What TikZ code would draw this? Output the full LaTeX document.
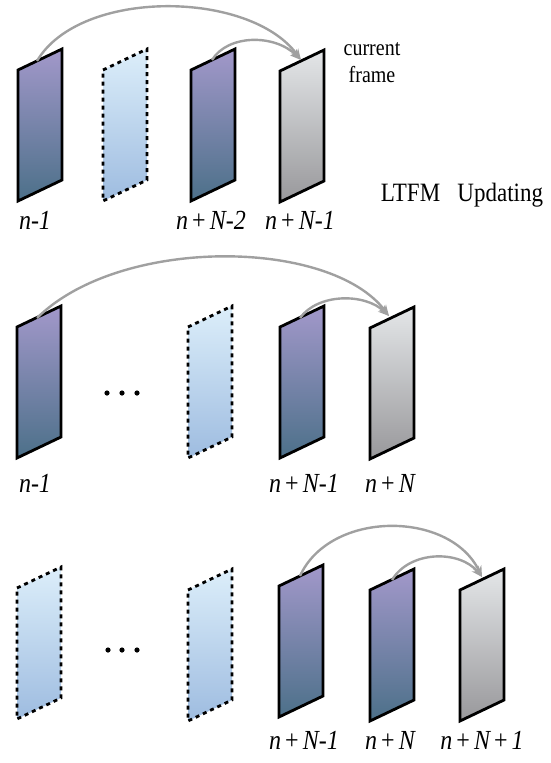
\documentclass[tikz,border=0pt]{standalone}
\usepackage{fontspec}
\setmainfont{Liberation Serif}
\usetikzlibrary{arrows.meta}
\definecolor{purptop}{RGB}{162,152,202}
\definecolor{purpbot}{RGB}{76,112,137}
\definecolor{graytop}{RGB}{228,230,232}
\definecolor{graybot}{RGB}{152,152,155}
\definecolor{bluetop}{RGB}{220,238,250}
\definecolor{bluebot}{RGB}{158,188,224}
\definecolor{arcgray}{RGB}{160,160,160}
\tikzset{
  purpframe/.style={draw=black, line width=2.8pt, line join=miter, top color=purptop, bottom color=purpbot},
  grayframe/.style={draw=black, line width=2.8pt, line join=miter, top color=graytop, bottom color=graybot},
  dashframe/.style={draw=black, line width=2.8pt, dash pattern=on 4pt off 4pt, top color=bluetop, bottom color=bluebot},
  lbl/.style={inner sep=0pt, font=\fontsize{24}{26}\selectfont\itshape},
  arc/.style={draw=arcgray, line width=2.4pt, -{Stealth[length=11pt,width=9pt]}},
  dot/.style={fill=black, draw=none}
}
\newcommand\myframe[3]{\path[#1] (#2,#3) -- ++(44,-21) -- ++(0,131) -- ++(-44,21) -- cycle;}
\newcommand\plusop{\upshape\,+\,}
\newcommand\tall[1]{\scalebox{1}[1.15]{#1}}
\begin{document}
\begin{tikzpicture}[x=1pt,y=-1pt]
\useasboundingbox (0,0) rectangle (550,763);
% ---------- Row 1 ----------
\myframe{purpframe}{18}{70}
\myframe{dashframe}{103}{70}
\myframe{purpframe}{191}{70}
\myframe{grayframe}{280}{71}
\coordinate (a1) at (37,61);
\coordinate (a3) at (212,60);
\coordinate (a4) at (301,60);
\draw[arc] (a1) .. controls (80,-12) and (250,-10) .. (a4);
\draw[arc] (a3) .. controls (228,34) and (275,34) .. (a4);
\node[lbl] (la1) at (35,220) {\tall{n-1}};
\node[lbl] (la3) at (211,220) {\tall{n{\plusop}N-2}};
\node[lbl] (la4) at (300,220) {\tall{n{\plusop}N-1}};
\node[inner sep=0pt, align=center, font=\fontsize{20}{27}\selectfont] (cf) at (372,63) {\tall{current}\\\tall{frame}};
\node[inner sep=0pt, font=\fontsize{23}{25}\selectfont] (ltfm) at (462,195) {\tall{LTFM\hspace{0.75em}Updating}};
% ---------- Row 2 ----------
\myframe{purpframe}{17}{327}
\myframe{dashframe}{188}{327}
\myframe{purpframe}{280}{327}
\myframe{grayframe}{370}{328}
\fill[dot] (107,393) circle (2.6) (122,393) circle (2.6) (137,393) circle (2.6);
\coordinate (b1) at (37,318);
\coordinate (b3) at (300,318);
\coordinate (b4) at (389,316);
\draw[arc] (b1) .. controls (120,236) and (330,238) .. (b4);
\draw[arc] (b3) .. controls (318,293) and (365,293) .. (b4);
\node[lbl] (lb1) at (35,483) {\tall{n-1}};
\node[lbl] (lb3) at (304,483) {\tall{n{\plusop}N-1}};
\node[lbl] (lb4) at (390,483) {\tall{n{\plusop}N}};
% ---------- Row 3 ----------
\myframe{dashframe}{17}{588}
\myframe{dashframe}{188}{590}
\myframe{purpframe}{279}{586}
\myframe{purpframe}{370}{590}
\myframe{grayframe}{460}{590}
\fill[dot] (108,650) circle (2.6) (122,650) circle (2.6) (137,650) circle (2.6);
\coordinate (c3) at (300,576);
\coordinate (c4) at (392,580);
\coordinate (c5) at (482,577);
\draw[arc] (c3) .. controls (330,510) and (450,510) .. (c5);
\draw[arc] (c4) .. controls (410,550) and (460,550) .. (c5);
\node[lbl] (lc3) at (304,740) {\tall{n{\plusop}N-1}};
\node[lbl] (lc4) at (390,740) {\tall{n{\plusop}N}};
\node[lbl] (lc5) at (482,740) {\tall{n{\plusop}N{\plusop}1}};
\end{tikzpicture}
\end{document}
